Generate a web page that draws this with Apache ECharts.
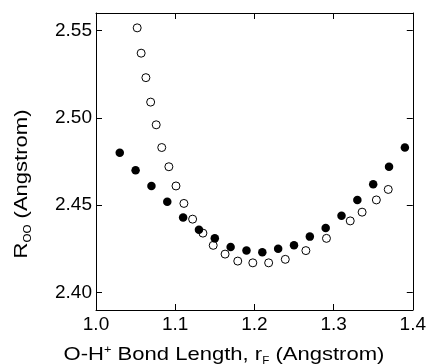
<!DOCTYPE html>
<html>
<head>
<meta charset="utf-8">
<script src="https://cdn.jsdelivr.net/npm/echarts@6/dist/echarts.min.js"></script>
<style>html,body{margin:0;padding:0;background:#fff}#c{width:429px;height:364px}</style>
</head>
<body>
<div id="c"></div>
<script>
// Filled circles
var filledX = [1.03, 1.05, 1.07, 1.09, 1.11, 1.13, 1.15, 1.17, 1.19, 1.21, 1.23, 1.25, 1.27, 1.29, 1.31, 1.33, 1.35, 1.37, 1.39];
var filledY = [2.480, 2.470, 2.461, 2.452, 2.443, 2.436, 2.431, 2.426, 2.424, 2.423, 2.425, 2.427, 2.432, 2.437, 2.444, 2.453, 2.462, 2.472, 2.483];
// Open circles
var openX = [1.052, 1.057, 1.063, 1.069, 1.076, 1.083, 1.092, 1.101, 1.111, 1.122, 1.135, 1.148, 1.163, 1.179, 1.198, 1.218, 1.239, 1.265, 1.291, 1.321, 1.336, 1.354, 1.369];
var openY = [2.5515, 2.537, 2.523, 2.509, 2.496, 2.483, 2.472, 2.461, 2.451, 2.442, 2.434, 2.427, 2.422, 2.418, 2.417, 2.417, 2.419, 2.424, 2.431, 2.441, 2.446, 2.453, 2.459];
// Tick labels
var xTicks = [1.0, 1.1, 1.2, 1.3, 1.4];
var yTicks = [2.40, 2.45, 2.50, 2.55];

var FONT = '"Liberation Sans", Arial, sans-serif';
function pairs(xs, ys) { return xs.map(function (x, i) { return [x, ys[i]]; }); }

var chart = echarts.init(document.getElementById('c'), null, { renderer: 'canvas' });
var axisLine = { show: true, onZero: false, lineStyle: { color: '#000', width: 1 } };
var tick = { show: true, inside: true, length: 6, lineStyle: { color: '#000', width: 1 } };

chart.setOption({
  animation: false,
  backgroundColor: '#fff',
  grid: { left: 96, right: 15, top: 13, bottom: 54, containLabel: false },
  xAxis: [
    { type: 'value', min: 1.0, max: 1.4, interval: 0.1, position: 'bottom',
      axisLine: axisLine, axisTick: tick, splitLine: { show: false },
      axisLabel: { show: true, margin: 5, fontFamily: FONT, fontSize: 19, color: '#000',
        formatter: function (v) { return v.toFixed(1); } } },
    { type: 'value', min: 1.0, max: 1.4, interval: 0.1, position: 'top',
      axisLine: axisLine, axisTick: tick, splitLine: { show: false }, axisLabel: { show: false } }
  ],
  yAxis: [
    { type: 'value', min: 2.39, max: 2.56, position: 'left',
      axisLine: axisLine, axisTick: Object.assign({}, tick, { customValues: yTicks }), splitLine: { show: false },
      axisLabel: { show: true, customValues: yTicks, margin: 4, fontFamily: FONT, fontSize: 19, color: '#000',
        formatter: function (v) { return v.toFixed(2); } } },
    { type: 'value', min: 2.39, max: 2.56, position: 'right',
      axisLine: axisLine, axisTick: Object.assign({}, tick, { customValues: yTicks }), splitLine: { show: false },
      axisLabel: { show: false } }
  ],
  series: [
    { type: 'scatter', xAxisIndex: 0, yAxisIndex: 0, data: pairs(filledX, filledY),
      symbol: 'circle', symbolSize: 8.5, itemStyle: { color: '#000', opacity: 1 }, z: 2 },
    { type: 'scatter', xAxisIndex: 0, yAxisIndex: 0, data: pairs(openX, openY),
      symbol: 'circle', symbolSize: 8, itemStyle: { color: 'rgba(255,255,255,0)', borderColor: '#000', borderWidth: 1, opacity: 1 }, z: 3 }
  ],
  graphic: [
    { type: 'text', x: 224, y: 355, scaleX: 1.16, style: {
        text: '{n|O-H}{sup|+}{n| Bond Length, r}{sub|F}{n| (Angstrom)}',
        align: 'center', verticalAlign: 'middle', fill: '#000',
        rich: {
          n: { fontFamily: FONT, fontSize: 19, lineHeight: 22, fill: '#000' },
          sup: { fontFamily: FONT, fontSize: 11, lineHeight: 11, verticalAlign: 'top', fill: '#000' },
          sub: { fontFamily: FONT, fontSize: 10, lineHeight: 10, verticalAlign: 'bottom', fill: '#000' }
        } } },
    { type: 'text', x: 22, y: 184, rotation: Math.PI / 2, scaleX: 1.16, style: {
        text: '{n|R}{sub|OO}{n| (Angstrom)}',
        align: 'center', verticalAlign: 'middle', fill: '#000',
        rich: {
          n: { fontFamily: FONT, fontSize: 19, lineHeight: 22, fill: '#000' },
          sub: { fontFamily: FONT, fontSize: 10, lineHeight: 10, verticalAlign: 'bottom', fill: '#000' }
        } } }
  ]
});
</script>
</body>
</html>
